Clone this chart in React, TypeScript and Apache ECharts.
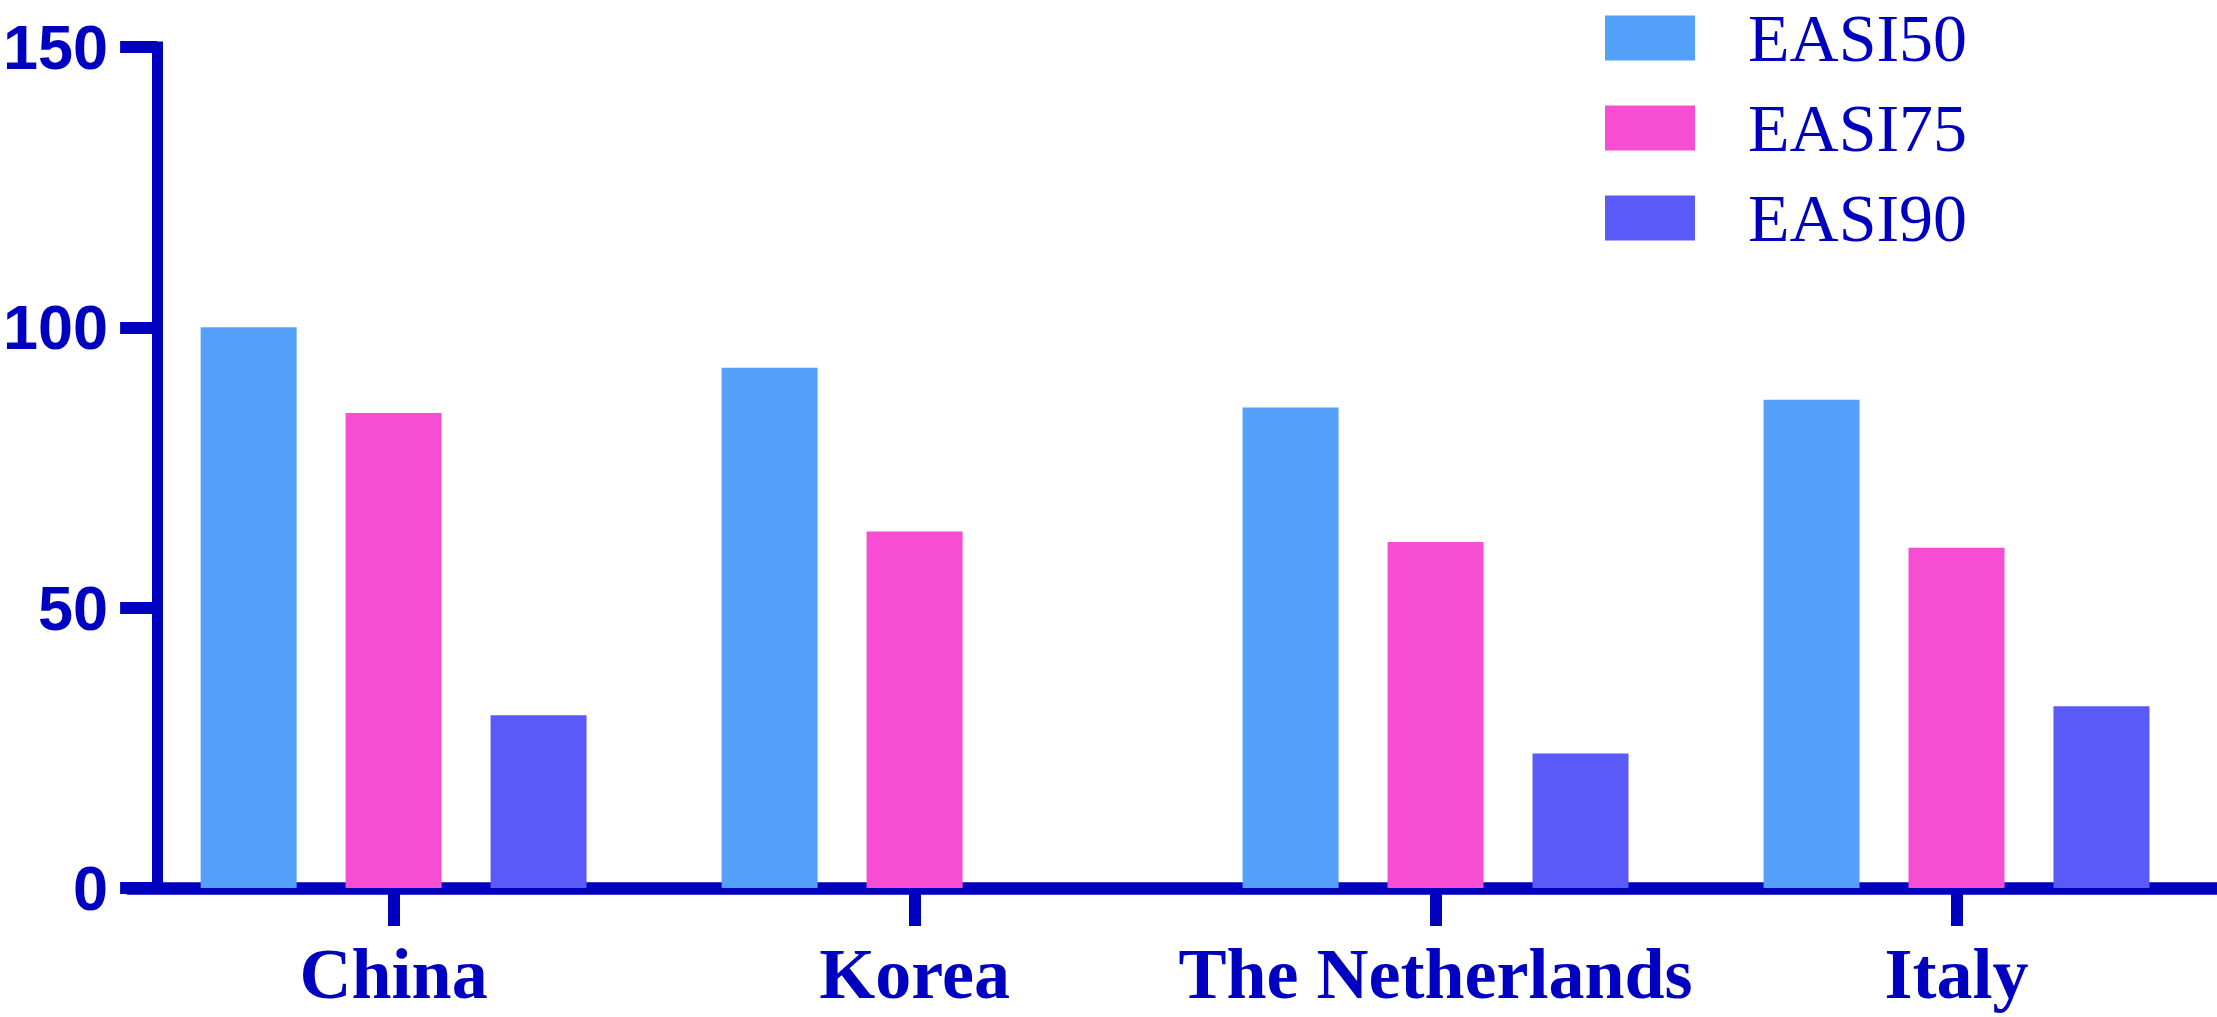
import React, { useEffect, useRef } from "react";
import * as echarts from "echarts";

const categories = ["China", "Korea", "The Netherlands", "Italy"];
const seriesNames = ["EASI50", "EASI75", "EASI90"];
const easi50 = [100, 92.8, 85.7, 87.1];
const easi75 = [84.7, 63.6, 61.7, 60.7];
const easi90 = [30.8, 0, 24.0, 32.4];
const yTicks = [0, 50, 100, 150];
const colors = ["#55A0FA", "#F64DD3", "#5A5AF8"];

const AXIS = "#0000C0";

export default function App() {
  const ref = useRef<HTMLDivElement>(null);
  useEffect(() => {
    if (!ref.current) return;
    const chart = echarts.init(ref.current, null, { renderer: "svg" });
    const values = [easi50, easi75, easi90];
    chart.setOption({
      animation: false,
      backgroundColor: "#ffffff",
      grid: { left: 125, right: -10, top: 47, bottom: 129, containLabel: false },
      legend: {
        orient: "vertical",
        left: 1605,
        top: 4,
        padding: 0,
        itemWidth: 90,
        itemHeight: 45,
        itemGap: 22,
        icon: "rect",
        data: seriesNames,
        textStyle: {
          fontFamily: "'Liberation Serif', 'Times New Roman', serif",
          fontSize: 68,
          color: AXIS,
          padding: [0, 0, 0, 48],
        },
      },
      xAxis: {
        type: "category",
        data: categories,
        boundaryGap: true,
        axisLine: { show: true, lineStyle: { color: AXIS, width: 12.5, cap: "square" } },
        axisTick: {
          show: true,
          interval: 0,
          alignWithLabel: true,
          length: 38,
          lineStyle: { color: AXIS, width: 12 },
        },
        axisLabel: {
          interval: 0,
          margin: 50,
          color: AXIS,
          fontFamily: "'Liberation Serif', 'Times New Roman', serif",
          fontWeight: "bold",
          fontSize: 72,
        },
        splitLine: { show: false },
      },
      yAxis: {
        type: "value",
        min: 0,
        max: 150,
        interval: 50,
        offset: -24,
        axisLine: { show: true, lineStyle: { color: AXIS, width: 11, cap: "square" } },
        axisTick: { show: true, length: 37, lineStyle: { color: AXIS, width: 12 } },
        axisLabel: {
          margin: 49,
          color: AXIS,
          fontFamily: "'Liberation Sans', Arial, sans-serif",
          fontWeight: "bold",
          fontSize: 63,
          formatter: (v: number) => (yTicks.includes(v) ? String(v) : ""),
        },
        splitLine: { show: false },
      },
      series: seriesNames.map((name, i) => ({
        name,
        type: "bar",
        data: values[i],
        barWidth: 96,
        barGap: "51%",
        itemStyle: { color: colors[i] },
        z: 1,
      })),
    });
    return () => chart.dispose();
  }, []);
  return (
    <div
      ref={ref}
      style={{ position: "absolute", left: 0, top: 0, width: 2217, height: 1017, background: "#fff" }}
    />
  );
}
